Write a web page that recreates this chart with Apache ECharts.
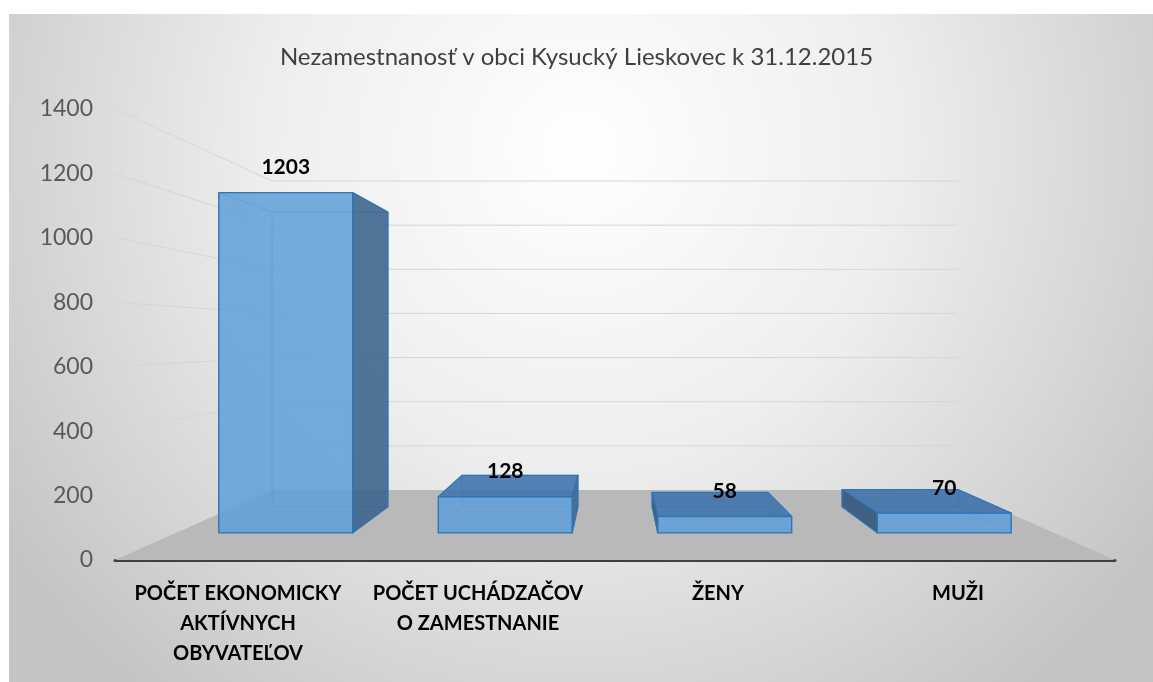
<!DOCTYPE html>
<html>
<head>
<meta charset="utf-8">
<script src="https://cdn.jsdelivr.net/npm/echarts@6/dist/echarts.min.js"></script>
<style>
  html, body { margin: 0; padding: 0; background: #fff; }
  #chart { width: 1153px; height: 682px; }
</style>
</head>
<body>
<div id="chart"></div>
<script>
// data
const chartTitle = 'Nezamestnanosť v obci Kysucký Lieskovec k 31.12.2015';
const categories = [
  'POČET EKONOMICKY\nAKTÍVNYCH\nOBYVATEĽOV',
  'POČET UCHÁDZAČOV\nO ZAMESTNANIE',
  'ŽENY',
  'MUŽI'
];
const values = [1203, 128, 58, 70];
const yTicks = [0, 200, 400, 600, 800, 1000, 1200, 1400];

// fake 3D: everything is shrunk toward a vanishing point
const HORIZON = 690;      // axis value that sits on the horizon
const BAR_FRONT = 0.878;  // depth factor of bar front faces
const BAR_BACK = 0.76;    // depth factor of bar back faces
const WALL = 0.685;       // depth factor of back wall
const BAR_WIDTH = 0.61;   // share of the category band

const FONT = 'Lato, "Open Sans", sans-serif';

function vanish(api) {
  const a = api.coord([0, HORIZON]);
  const b = api.coord([categories.length - 1, HORIZON]);
  return [(a[0] + b[0]) / 2, a[1]];
}

function proj(vp, x, y, s) {
  return [vp[0] + (x - vp[0]) * s, vp[1] + (y - vp[1]) * s];
}

// floor + wall gridlines
function renderRoom(params, api) {
  const vp = vanish(api);
  const band = api.size([1, 0])[0];
  const xL = api.coord([0, 0])[0] - band / 2;
  const xR = api.coord([categories.length - 1, 0])[0] + band / 2;
  const y0 = api.coord([0, 0])[1];
  const children = [{
    type: 'polygon',
    shape: { points: [[xL, y0], [xR, y0], proj(vp, xR, y0, WALL), proj(vp, xL, y0, WALL)] },
    style: { fill: '#b9b9b9' }
  }];
  yTicks.forEach(t => {
    if (t === 0) return;
    const y = api.coord([0, t])[1];
    children.push({
      type: 'polyline',
      shape: { points: [[xL, y], proj(vp, xL, y, WALL), proj(vp, xR, y, WALL)] },
      style: { stroke: '#d6d6d6', lineWidth: 1, fill: null }
    });
  });
  return { type: 'group', children };
}

function renderBox(params, api) {
  const i = api.value(0), v = api.value(1);
  const vp = vanish(api);
  const band = api.size([1, 0])[0];
  const base = api.coord([i, 0]);
  const top = api.coord([i, v]);
  const hw = band * BAR_WIDTH / 2;
  const xl = base[0] - hw, xr = base[0] + hw, yb = base[1], yt = top[1];
  const face = s => ({
    lb: proj(vp, xl, yb, s), rb: proj(vp, xr, yb, s),
    rt: proj(vp, xr, yt, s), lt: proj(vp, xl, yt, s)
  });
  const F = face(BAR_FRONT), B = face(BAR_BACK);
  const edge = '#2e75b6';
  const hidden = { stroke: 'rgba(46,117,182,0.55)', lineWidth: 1, fill: null };
  const solid = (fill, w) => ({ fill, stroke: edge, lineWidth: w, lineJoin: 'round' });
  const kids = [];
  // edges seen through the glass
  kids.push({ type: 'polygon', shape: { points: [B.lb, B.rb, B.rt, B.lt] }, style: hidden });
  kids.push({ type: 'polyline', shape: { points: [F.lb, B.lb] }, style: hidden });
  kids.push({ type: 'polyline', shape: { points: [F.rb, B.rb] }, style: hidden });
  kids.push({ type: 'polyline', shape: { points: [F.lt, B.lt] }, style: hidden });
  kids.push({ type: 'polyline', shape: { points: [F.rt, B.rt] }, style: hidden });
  // top face when seen from above
  if (F.lt[1] > vp[1]) {
    kids.push({ type: 'polygon', shape: { points: [F.lt, F.rt, B.rt, B.lt] },
      style: solid('rgba(62,114,172,0.88)', 1.2) });
  }
  // side faces
  if (F.rb[0] < vp[0]) {
    kids.push({ type: 'polygon', shape: { points: [F.rt, F.rb, B.rb, B.rt] },
      style: solid('rgba(58,98,140,0.88)', 1.2) });
  }
  if (F.lb[0] > vp[0]) {
    kids.push({ type: 'polygon', shape: { points: [F.lt, F.lb, B.lb, B.lt] },
      style: solid('rgba(52,88,126,0.9)', 1.2) });
  }
  // front
  kids.push({ type: 'polygon', shape: { points: [F.lb, F.rb, F.rt, F.lt] },
    style: solid('rgba(96,158,216,0.86)', 1.4) });
  kids.push({
    type: 'text',
    style: {
      text: String(v), x: (F.lt[0] + F.rt[0]) / 2, y: F.lt[1] - 25,
      align: 'center', verticalAlign: 'middle',
      fontFamily: FONT, fontWeight: 'bold', fontSize: 21, fill: '#000'
    }
  });
  return { type: 'group', children: kids };
}

const chart = echarts.init(document.getElementById('chart'), null, { renderer: 'canvas' });

chart.setOption({
  animation: false,
  backgroundColor: '#ffffff',
  graphic: [{
    type: 'rect', z: -10, silent: true,
    shape: { x: 9, y: 14, width: 1144, height: 668 },
    style: {
      fill: {
        type: 'radial', x: 0.5, y: 0.2, r: 1.05,
        colorStops: [
          { offset: 0, color: '#ffffff' },
          { offset: 0.45, color: '#eeeeee' },
          { offset: 1, color: '#c4c4c4' }
        ]
      }
    }
  }],
  title: {
    text: chartTitle,
    left: 'center',
    top: 40,
    textStyle: { fontFamily: FONT, fontSize: 24, fontWeight: 'normal', color: '#404040' }
  },
  grid: [
    { left: 115, right: 38, top: 109, bottom: 122 },
    { left: 118, right: 75, top: 109, bottom: 122 }
  ],
  xAxis: [{
    type: 'category', gridIndex: 0, data: categories,
    axisLine: { lineStyle: { color: '#404040', width: 3 } },
    axisTick: { show: false }, axisLabel: { show: false }
  }, {
    type: 'category', gridIndex: 1, data: categories,
    axisLine: { show: false }, axisTick: { show: false },
    axisLabel: {
      interval: 0, margin: 19, color: '#000', fontFamily: FONT,
      fontWeight: 'bold', fontSize: 20, lineHeight: 30
    }
  }],
  yAxis: [{
    type: 'value', gridIndex: 0, min: 0, max: 1400, interval: 200,
    axisLine: { show: false }, axisTick: { show: false }, splitLine: { show: false },
    axisLabel: { color: '#595959', fontFamily: FONT, fontSize: 23, margin: 22,
      formatter: v => String(v) }
  }, {
    type: 'value', gridIndex: 1, min: 0, max: 1400, show: false
  }],
  series: [{
    type: 'custom', xAxisIndex: 0, yAxisIndex: 0, z: 1,
    renderItem: renderRoom, data: [[0, 0]], silent: true
  }, {
    type: 'custom', xAxisIndex: 0, yAxisIndex: 0, z: 2,
    renderItem: renderBox,
    encode: { x: 0, y: 1 },
    data: values.map((v, i) => [i, v])
  }]
});
</script>
</body>
</html>
